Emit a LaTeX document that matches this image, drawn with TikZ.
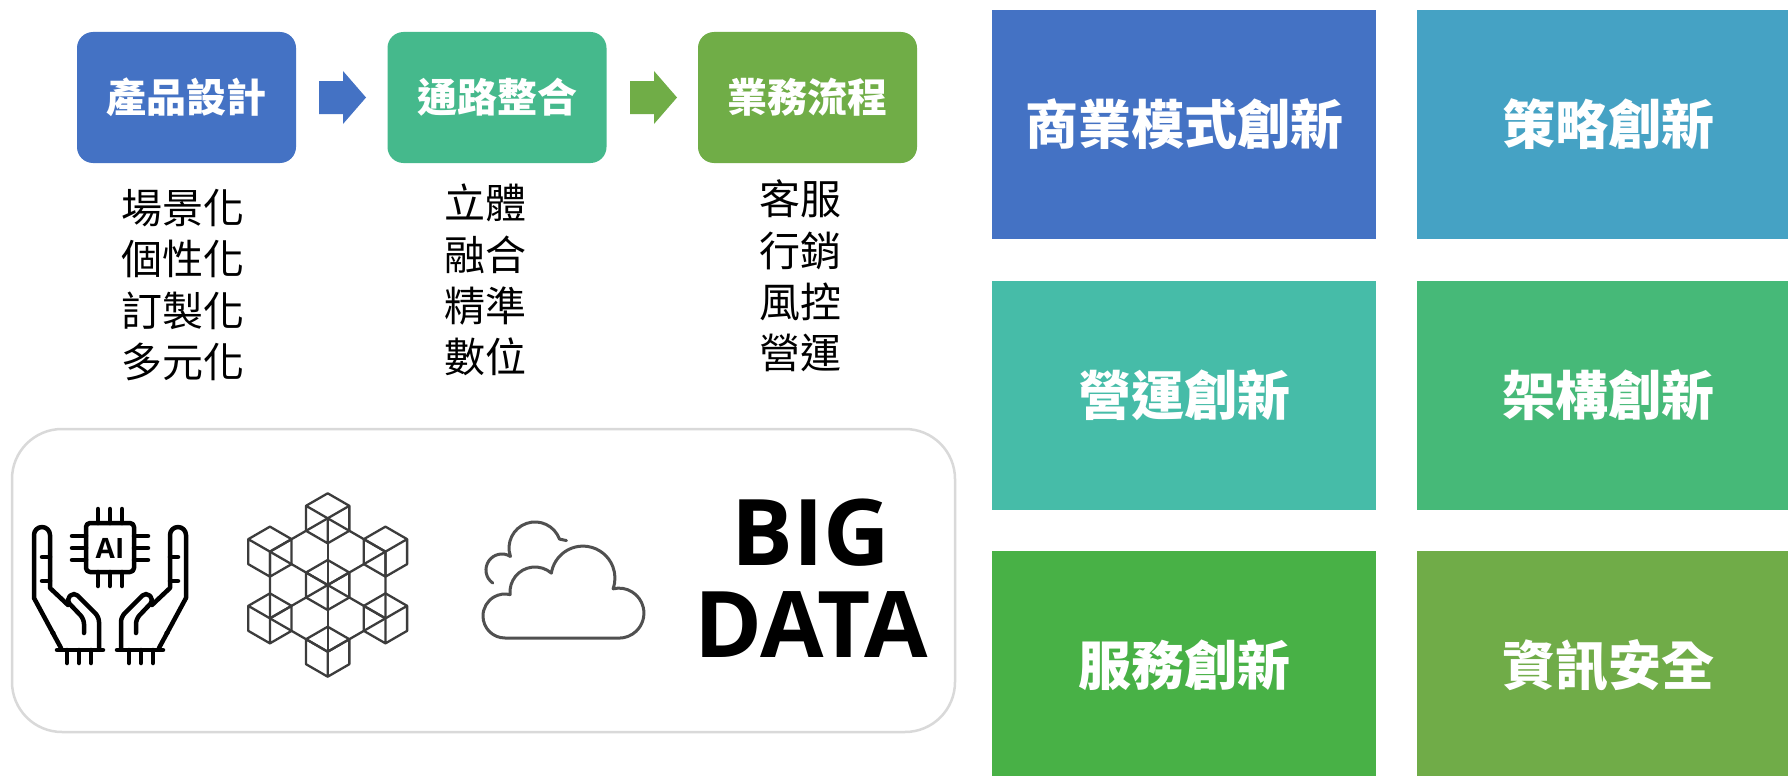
\documentclass[tikz,border=0pt]{standalone}
\usepackage{fontspec}
\newfontfamily\cjk{Noto Sans CJK TC}
\newfontfamily\opensans{Open Sans}
\usetikzlibrary{calc}
\definecolor{cblue}{HTML}{4472C4}
\definecolor{cteal}{HTML}{45B98C}
\definecolor{cgreen}{HTML}{70AD47}
\definecolor{gA}{HTML}{4472C4}
\definecolor{gB}{HTML}{45A2C4}
\definecolor{gC}{HTML}{46BCA8}
\definecolor{gD}{HTML}{46B978}
\definecolor{gE}{HTML}{48B146}
\definecolor{gF}{HTML}{70AC48}
\definecolor{panelgray}{HTML}{D9D9D9}
\definecolor{cubegray}{HTML}{3C3C3C}
\definecolor{cloudgray}{HTML}{505050}
\newcommand\handstrokes{%
  \draw[handline] (61,-648) -- (34,-598) -- (34,-535) arc[start angle=180,end angle=0,radius=8] -- (50,-588) -- (68,-605);
  \draw[handline, rounded corners=5pt] (99,-648) -- (99,-617) -- (74,-592) -- (66,-600) -- (84,-619) -- (84,-633);
  \draw[handline] (57,-650) -- (103,-650);
  \draw[handline] (67,-650) -- (67,-663) (79,-650) -- (79,-663) (91,-650) -- (91,-663);
  \draw[handline] (42,-557) -- (50,-557) (42,-581) -- (50,-581);
  \fill (53,-633) circle (2.6);
}
\newcommand\cubeshape{%
  \draw[cubeline] (30:25) -- (90:25) -- (150:25) -- (210:25) -- (270:25) -- (330:25) -- cycle
    (0,0) -- (150:25) (0,0) -- (30:25) (0,0) -- (270:25);
}
\begin{document}
\begin{tikzpicture}[x=1pt,y=1pt,
  procbox/.style={rounded corners=16pt, minimum width=219pt, minimum height=131pt, inner sep=0pt,
    text=white, font=\cjk\bfseries\fontsize{40}{48}\selectfont},
  gridbox/.style={minimum width=384pt, minimum height=229pt, inner sep=0pt,
    text=white, font=\cjk\bfseries\fontsize{53}{60}\selectfont},
  listtext/.style={font=\cjk\fontsize{41}{51.3}\selectfont, align=center, inner sep=0pt},
  handline/.style={line width=4.5pt, line cap=round, line join=round, draw=black},
  cubeline/.style={line width=2.3pt, line join=round, line cap=round, draw=cubegray},
  cloudline/.style={line width=3pt, line join=round, line cap=round, draw=cloudgray},
  blockarrow/.style={draw=none}]
\useasboundingbox (0,0) rectangle (1788,-776);
\clip (0,0) rectangle (1788,-776);
\fill[white] (0,0) rectangle (1788,-776);

% process boxes
\node[procbox, fill=cblue]  (b1) at (186.5,-97.5) {產品設計};
\node[procbox, fill=cteal]  (b2) at (497,-97.5)   {通路整合};
\node[procbox, fill=cgreen] (b3) at (807.5,-97.5) {業務流程};

% block arrows between boxes
\fill[cblue]  (319,-81) -- (343,-81) -- (343,-71) -- (366,-97.5) -- (343,-124) -- (343,-114) -- (319,-114) -- cycle;
\fill[cgreen] (630,-81) -- (654,-81) -- (654,-71) -- (677,-97.5) -- (654,-124) -- (654,-114) -- (630,-114) -- cycle;

% lists
\node[listtext] (l1) at (182.5,-285) {場景化\\個性化\\訂製化\\多元化};
\node[listtext] (l2) at (485,-280)   {立體\\融合\\精準\\數位};
\node[listtext] (l3) at (800,-276)   {客服\\行銷\\風控\\營運};

% grid
\node[gridbox, fill=gA] (g1) at (1184,-124.5)   {商業模式創新};
\node[gridbox, fill=gB] (g2) at (1608.5,-124.5) {策略創新};
\node[gridbox, fill=gC] (g3) at (1184,-395)     {營運創新};
\node[gridbox, fill=gD] (g4) at (1608.5,-395)   {架構創新};
\node[gridbox, fill=gE] (g5) at (1184,-665.5)   {服務創新};
\node[gridbox, fill=gF] (g6) at (1608.5,-665.5) {資訊安全};

% bottom panel
\node[draw=panelgray, line width=2.5pt, rounded corners=50pt, minimum width=943pt, minimum height=303pt, inner sep=0pt] (panel) at (483.5,-580.5) {};

% AI hands icon
\handstrokes
\begin{scope}[xshift=220pt, xscale=-1]
  \handstrokes
\end{scope}
\draw[handline, rounded corners=4pt] (86,-523) rectangle (134,-572);
\draw[handline] (98,-509) -- (98,-523) (110,-509) -- (110,-523) (122,-509) -- (122,-523)
  (98,-572) -- (98,-586) (110,-572) -- (110,-586) (122,-572) -- (122,-586)
  (72,-536) -- (86,-536) (72,-548) -- (86,-548) (72,-560) -- (86,-560)
  (134,-536) -- (148,-536) (134,-548) -- (148,-548) (134,-560) -- (148,-560);
\node[font=\opensans\bfseries\fontsize{28}{28}\selectfont, inner sep=0pt] (ai) at (110,-548) {AI};

% cube cluster
\coordinate (cc) at (327.7,-585);
\draw[cubeline] (cc) +(30:66.7) -- +(90:66.7) -- +(150:66.7) -- +(210:66.7) -- +(270:66.7) -- +(330:66.7) -- cycle;
\draw[cubeline] (cc) +(90:66.7) -- +(270:66.7);
\draw[cubeline] (cc) +(30:66.7) -- +(210:66.7);
\draw[cubeline] (cc) +(150:66.7) -- +(330:66.7);
\begin{scope}[shift={(cc)}] \cubeshape \end{scope}
\foreach \a in {30,90,150,210,270,330} {
  \begin{scope}[shift={($(cc)+(\a:66.7)$)}] \cubeshape \end{scope}
}

% cloud
\draw[cloudline] (505,-638) arc[start angle=270, end angle=76.6, radius=22]
  arc[start angle=186, end angle=49, radius=25]
  arc[start angle=171, end angle=-19.5, radius=32]
  arc[start angle=103.4, end angle=-90, radius=25] -- cycle;
\draw[cloudline] (492.8,-583.1) arc[start angle=235, end angle=58, radius=16]
  arc[start angle=199, end angle=20, radius=26] -- ++(7,-1.5);

% big data
\node[font=\opensans\bfseries\fontsize{92}{92}\selectfont, align=center, inner sep=0pt] (bd) at (811,-578) {BIG\\DATA};
\end{tikzpicture}
\end{document}
